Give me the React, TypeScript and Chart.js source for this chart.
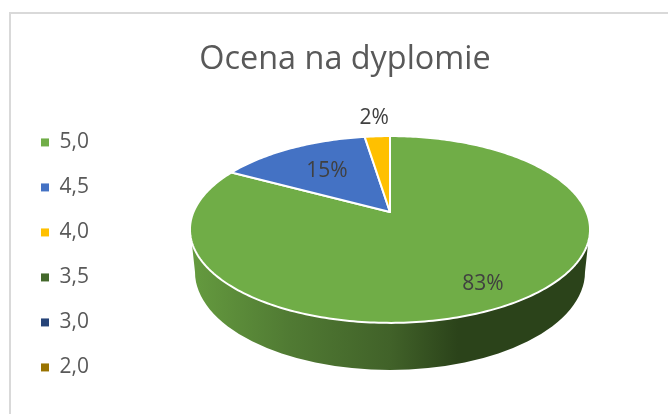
import React, { useEffect, useRef } from "react";
import { Chart, registerables } from "chart.js";

Chart.register(...registerables);

const titleText = "Ocena na dyplomie";
const categories = ["5,0", "4,5", "4,0", "3,5", "3,0", "2,0"];
const values = [34, 6, 1, 0, 0, 0];
const colors = ["#70AD47", "#4472C4", "#FFC000", "#43682B", "#264478", "#997300"];
const labelRadii = [0.805, 0.61, 1.3, 1, 1, 1];

const FONT = '"Open Sans", sans-serif';
const CX = 390;
const APEX_Y = 212;
const A = 196.5;
const B = 50.5;
const D = -0.187;

// Tilted-disc projection of the unit circle, with the near edge larger than the far edge.
function project(ux: number, uy: number): [number, number] {
  const w = 1 + D * uy;
  return [CX + (A * ux) / w, (APEX_Y + B * uy) / w];
}

const sidePlugin = {
  id: "pieSide",
  beforeDatasetsDraw(chart: any) {
    const ctx = chart.ctx as CanvasRenderingContext2D;
    ctx.save();
    const g = ctx.createLinearGradient(190, 0, 590, 0);
    g.addColorStop(0, "#659B3F");
    g.addColorStop(0.25, "#507A33");
    g.addColorStop(0.5, "#416229");
    g.addColorStop(0.67, "#2B431A");
    g.addColorStop(1, "#2B431A");
    ctx.fillStyle = g;
    ctx.beginPath();
    ctx.moveTo(191.5, 240);
    ctx.lineTo(195, 272);
    ctx.ellipse(CX, 272, 195, 98, 0, Math.PI, 0, true);
    ctx.lineTo(588.5, 240);
    ctx.closePath();
    ctx.fill();
    ctx.restore();
  },
};

const slicesPlugin = {
  id: "pieSlices",
  beforeDatasetDraw(chart: any, args: any) {
    const ctx = chart.ctx as CanvasRenderingContext2D;
    const arcs = args.meta.data;
    ctx.save();
    arcs.forEach((arc: any, i: number) => {
      const start = arc.startAngle;
      const end = arc.endAngle;
      if (end - start <= 0) return;
      ctx.beginPath();
      ctx.moveTo(...project(0, 0));
      const n = Math.max(2, Math.ceil(((end - start) * 180) / Math.PI));
      for (let k = 0; k <= n; k++) {
        const a = start + ((end - start) * k) / n;
        ctx.lineTo(...project(Math.cos(a), Math.sin(a)));
      }
      ctx.closePath();
      ctx.fillStyle = colors[i];
      ctx.fill();
      ctx.strokeStyle = "#FFFFFF";
      ctx.lineWidth = 2;
      ctx.lineJoin = "round";
      ctx.stroke();
    });
    const total = values.reduce((s, v) => s + v, 0);
    ctx.fillStyle = "#404040";
    ctx.font = `21px ${FONT}`;
    ctx.textAlign = "center";
    ctx.textBaseline = "middle";
    arcs.forEach((arc: any, i: number) => {
      if (values[i] <= 0) return;
      const mid = (arc.startAngle + arc.endAngle) / 2;
      const r = labelRadii[i];
      const [x, y] = project(r * Math.cos(mid), r * Math.sin(mid));
      ctx.fillText(`${Math.round((values[i] / total) * 100)}%`, x, y);
    });
    ctx.restore();
    return false;
  },
};

export default function App() {
  const ref = useRef<HTMLCanvasElement>(null);
  useEffect(() => {
    const chart = new Chart(ref.current!, {
      type: "pie",
      data: {
        labels: categories,
        datasets: [{ data: values, backgroundColor: colors, borderWidth: 0 }],
      },
      options: {
        responsive: false,
        animation: false,
        layout: { padding: { left: 17, right: -5, top: 40, bottom: 0 } },
        plugins: {
          title: {
            display: true,
            text: titleText,
            color: "#595959",
            font: { family: FONT, size: 32.4, weight: "normal" },
            padding: { top: 0, bottom: 17 },
          },
          legend: {
            position: "left",
            align: "center",
            fullSize: false,
            labels: {
              boxWidth: 8,
              boxHeight: 8,
              padding: 24,
              color: "#595959",
              font: { family: FONT, size: 21 },
            },
          },
          tooltip: { enabled: false },
        },
      } as any,
      plugins: [sidePlugin, slicesPlugin],
    });
    return () => chart.destroy();
  }, []);
  return (
    <div style={{ position: "fixed", left: 0, top: 0, width: 668, height: 414, background: "#fff", overflow: "hidden" }}>
      <div
        style={{
          position: "absolute",
          left: 9,
          top: 12,
          width: 700,
          height: 500,
          border: "2px solid #D9D9D9",
          boxSizing: "border-box",
        }}
      />
      <canvas ref={ref} width={668} height={414} style={{ position: "absolute", left: 0, top: 0, display: "block" }} />
    </div>
  );
}
